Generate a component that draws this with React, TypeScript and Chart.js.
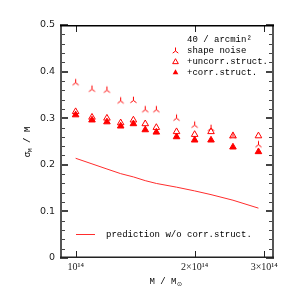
import React, { useEffect, useRef } from 'react';
import { Chart, registerables } from 'chart.js';

Chart.register(...registerables);

// Cluster masses (M_sun)
const masses = [1.0e14, 1.1e14, 1.2e14, 1.3e14, 1.4e14, 1.5e14, 1.6e14, 1.8e14, 2.0e14, 2.2e14, 2.5e14, 2.9e14];
// sigma_M / M
const shapeNoise = [0.376, 0.362, 0.360, 0.337, 0.338, 0.318, 0.318, 0.300, 0.285, 0.278, 0.262, 0.243];
const uncorrStruct = [0.314, 0.302, 0.300, 0.290, 0.296, 0.288, 0.280, 0.271, 0.265, 0.271, 0.262, 0.262];
const corrStruct = [0.307, 0.296, 0.292, 0.283, 0.288, 0.275, 0.270, 0.260, 0.253, 0.253, 0.238, 0.228];
const prediction = [0.214, 0.202, 0.191, 0.181, 0.174, 0.166, 0.160, 0.152, 0.144, 0.136, 0.124, 0.107];

const xTickValues = [1e14, 2e14, 3e14];
const xTickLabels = ['10\u00b9\u2074', '2\u00d710\u00b9\u2074', '3\u00d710\u00b9\u2074'];
const yMinorStep = 0.02;
const legendHeader = '40 / arcmin\u00b2';
const legendLabels = ['shape noise', '+uncorr.struct.', '+corr.struct.'];
const lineLabel = 'prediction w/o corr.struct.';

const RED = 'rgb(255,0,0)';
const LINE_RED = 'rgb(255,45,45)';
const MONO = '"Liberation Mono", "DejaVu Sans Mono", monospace';

function drawTriStarPath(ctx: CanvasRenderingContext2D, cx: number, cy: number, r: number) {
  ctx.beginPath();
  ctx.moveTo(cx, cy);
  ctx.lineTo(cx, cy - r);
  ctx.moveTo(cx, cy);
  ctx.lineTo(cx - r * 0.8, cy + r * 0.6);
  ctx.moveTo(cx, cy);
  ctx.lineTo(cx + r * 0.8, cy + r * 0.6);
  ctx.stroke();
}

function makeTriStar(): HTMLCanvasElement {
  const c = document.createElement('canvas');
  c.width = 11;
  c.height = 11;
  const ctx = c.getContext('2d')!;
  ctx.strokeStyle = RED;
  ctx.lineWidth = 1;
  drawTriStarPath(ctx, 5.5, 5.5, 3.8);
  return c;
}

function triPath(ctx: CanvasRenderingContext2D, cx: number, cy: number, r: number) {
  const side = Math.sqrt(3) * r;
  const h = side * Math.sqrt(3) / 2;
  ctx.beginPath();
  ctx.moveTo(cx - side / 2, cy + h / 3);
  ctx.lineTo(cx + side / 2, cy + h / 3);
  ctx.lineTo(cx, cy - (2 * h) / 3);
  ctx.closePath();
}

const framePlugin = {
  id: 'frameTicks',
  afterDraw(chart: any) {
    const ctx: CanvasRenderingContext2D = chart.ctx;
    const area = chart.chartArea;
    const L = Math.round(area.left);
    const R = Math.round(area.right);
    const T = Math.round(area.top);
    const B = Math.round(area.bottom);
    const ys = chart.scales.y;
    const xs = chart.scales.x;
    ctx.save();
    ctx.globalAlpha = 1;
    ctx.fillStyle = '#444';
    const n = Math.round(0.5 / yMinorStep);
    for (let i = 0; i <= n; i++) {
      const py = Math.round(ys.getPixelForValue(i * yMinorStep));
      const len = i % 5 === 0 ? 8 : 5;
      const th = i % 5 === 0 ? 2 : 1;
      ctx.fillRect(L, py - (th - 1), len, th);
      ctx.fillRect(R - len, py - (th - 1), len, th);
    }
    ctx.fillStyle = '#222';
    for (const v of xTickValues) {
      const px = Math.round(xs.getPixelForValue(v));
      ctx.fillRect(px, B - 7, 1, 7);
      ctx.fillRect(px, T, 1, 7);
    }
    // frame
    ctx.fillStyle = '#555';
    ctx.fillRect(L, T, 2, B - T);
    ctx.fillRect(R - 2, T, 2, B - T);
    ctx.fillStyle = '#000';
    ctx.fillRect(L, T, R - L, 1.5);
    ctx.fillStyle = '#222';
    ctx.fillRect(L, B - 1.5, R - L, 1.5);

    // legend
    ctx.fillStyle = '#000';
    ctx.font = `9px ${MONO}`;
    ctx.textBaseline = 'middle';
    ctx.textAlign = 'left';
    ctx.fillText(legendHeader, 187, 39.5);
    const rowsY = [51, 62, 72.5];
    legendLabels.forEach((t, i) => ctx.fillText(t, 187, rowsY[i]));
    ctx.strokeStyle = RED;
    ctx.fillStyle = RED;
    ctx.lineWidth = 1;
    drawTriStarPath(ctx, 175.5, 51, 3.5);
    triPath(ctx, 175.5, 62, 3.3);
    ctx.stroke();
    triPath(ctx, 175.5, 72.5, 3.3);
    ctx.fill();
    ctx.fillStyle = LINE_RED;
    ctx.fillRect(76, 234, 19, 1);
    ctx.fillStyle = '#000';
    ctx.fillText(lineLabel, 106, 234.5);

    // x title: M / M_sun
    const xt = 'M / M';
    ctx.font = `9px ${MONO}`;
    const w1 = ctx.measureText(xt).width;
    ctx.font = `6px "DejaVu Sans", sans-serif`;
    const w2 = ctx.measureText('\u2299').width;
    const sx = 165.5 - (w1 + w2) / 2;
    ctx.font = `9px ${MONO}`;
    ctx.fillText(xt, sx, 281.5);
    ctx.font = `6px "DejaVu Sans", sans-serif`;
    ctx.fillText('\u2299', sx + w1 + 0.5, 284);

    // y title: sigma_M / M
    ctx.translate(27.5, 142);
    ctx.rotate(-Math.PI / 2);
    ctx.font = `9px ${MONO}`;
    const a = ctx.measureText('\u03c3').width;
    const c = ctx.measureText(' / M').width;
    ctx.font = `6px ${MONO}`;
    const b = ctx.measureText('M').width;
    const tx = -(a + b + c) / 2;
    ctx.font = `9px ${MONO}`;
    ctx.fillText('\u03c3', tx, 0);
    ctx.font = `6px ${MONO}`;
    ctx.fillText('M', tx + a, 2.5);
    ctx.font = `9px ${MONO}`;
    ctx.fillText(' / M', tx + a + b, 0);
    ctx.restore();
  },
};

export default function App() {
  const ref = useRef<HTMLCanvasElement>(null);
  useEffect(() => {
    if (!ref.current) return;
    const triStar = makeTriStar();
    const toPts = (arr: number[]) => masses.map((m, i) => ({ x: m, y: arr[i] }));
    const xMin = 0.913e14;
    const xMax = 3.175e14;
    const chart = new Chart(ref.current, {
      type: 'scatter',
      data: {
        datasets: [
          {
            type: 'line',
            label: 'prediction',
            data: toPts(prediction),
            borderColor: LINE_RED,
            borderWidth: 1,
            pointRadius: 0,
            fill: false,
            tension: 0,
          } as any,
          {
            label: 'shape noise',
            data: toPts(shapeNoise),
            pointStyle: triStar as any,
            pointRadius: 5,
          },
          {
            label: 'uncorr',
            data: toPts(uncorrStruct),
            pointStyle: 'triangle',
            pointRadius: 3.8,
            borderColor: RED,
            backgroundColor: 'rgba(255,255,255,0)',
            borderWidth: 1,
          },
          {
            label: 'corr',
            data: toPts(corrStruct),
            pointStyle: 'triangle',
            pointRadius: 3.8,
            borderColor: RED,
            backgroundColor: RED,
            borderWidth: 1,
          },
        ],
      },
      options: {
        animation: false,
        responsive: false,
        maintainAspectRatio: false,
        layout: { padding: { top: 25, right: 25, left: 0, bottom: 0 } },
        plugins: { legend: { display: false }, tooltip: { enabled: false } },
        scales: {
          x: {
            type: 'logarithmic',
            position: 'bottom',
            min: xMin,
            max: xMax,
            grid: { display: false, drawTicks: false },
            border: { display: false },
            afterBuildTicks: (s: any) => {
              s.ticks = xTickValues.map((v) => ({ value: v }));
            },
            ticks: {
              autoSkip: false,
              maxRotation: 0,
              padding: 3,
              color: '#222',
              font: { family: '"Liberation Serif", "DejaVu Serif", serif', size: 10 },
              callback: (v: any) => {
                const i = xTickValues.indexOf(Number(v));
                return i >= 0 ? xTickLabels[i] : '';
              },
            },
            afterFit: (s: any) => {
              s.height = 41;
            },
          },
          y: {
            position: 'left',
            min: 0,
            max: 0.5,
            grid: { display: false, drawTicks: false },
            border: { display: false },
            ticks: {
              stepSize: 0.1,
              padding: 5,
              color: '#222',
              font: { family: '"DejaVu Sans", sans-serif', size: 9.5 },
              callback: (v: any) => (Number(v) === 0 ? '0' : Number(v).toFixed(1)),
            },
            afterFit: (s: any) => {
              s.width = 60;
            },
          },
        },
      } as any,
      plugins: [framePlugin],
    });
    return () => chart.destroy();
  }, []);
  return (
    <div style={{ position: 'absolute', left: 0, top: 0, width: 299, height: 299, background: '#fff' }}>
      <canvas ref={ref} width={299} height={299} style={{ width: 299, height: 299, display: 'block' }} />
    </div>
  );
}
